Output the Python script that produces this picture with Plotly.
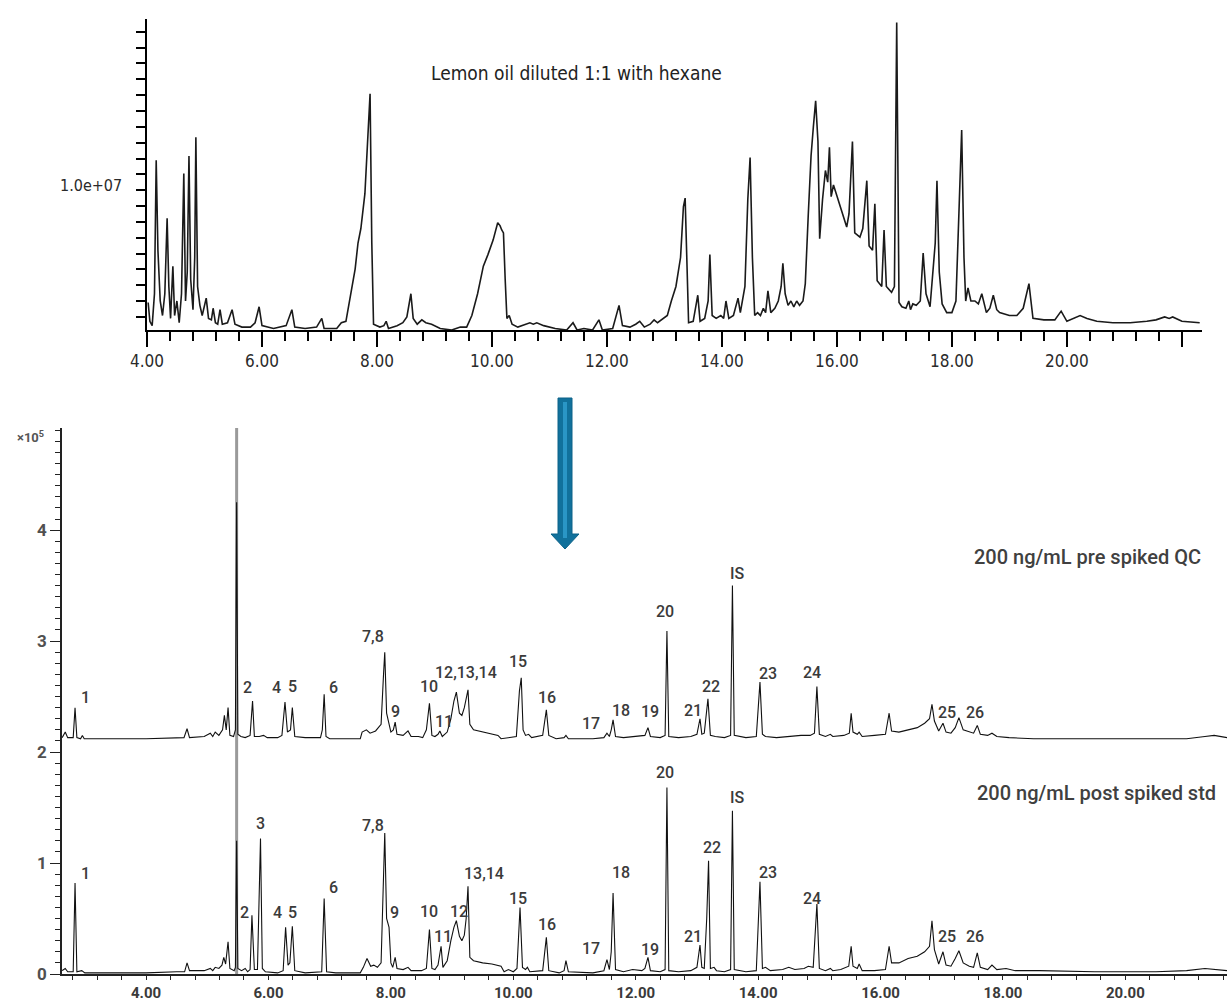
import plotly.graph_objects as go

# ---------------- DATA ----------------
# Top: lemon oil diluted 1:1 with hexane (abundance in units of 1e7)
lemon_rt = [
    4.02, 4.05, 4.09, 4.13, 4.16, 4.19, 4.23, 4.27, 4.31, 4.35,
    4.38, 4.41, 4.45, 4.48, 4.52, 4.56, 4.60, 4.64, 4.67, 4.70,
    4.73, 4.76, 4.80, 4.83, 4.85, 4.88, 4.92, 4.96, 5.03, 5.07,
    5.12, 5.15, 5.19, 5.23, 5.27, 5.31, 5.40, 5.48, 5.53, 5.65,
    5.80, 5.88, 5.95, 6.00, 6.20, 6.42, 6.52, 6.57, 6.75, 6.95,
    7.04, 7.08, 7.30, 7.38, 7.46, 7.55, 7.62, 7.67, 7.72, 7.79,
    7.85, 7.88, 7.91, 7.94, 8.05, 8.12, 8.16, 8.20, 8.35, 8.45,
    8.52, 8.59, 8.63, 8.70, 8.78, 8.85, 8.95, 9.10, 9.30, 9.45,
    9.56, 9.65, 9.75, 9.85, 9.93, 10.02, 10.10, 10.14, 10.17, 10.20,
    10.23, 10.26, 10.30, 10.35, 10.45, 10.60, 10.66, 10.72, 10.78, 10.90,
    11.10, 11.30, 11.41, 11.48, 11.60, 11.75, 11.86, 11.92, 12.10, 12.21,
    12.27, 12.40, 12.50, 12.57, 12.65, 12.75, 12.82, 12.88, 12.97, 13.05,
    13.12, 13.20, 13.28, 13.33, 13.36, 13.39, 13.42, 13.50, 13.58, 13.62,
    13.70, 13.76, 13.79, 13.83, 13.90, 13.98, 14.03, 14.07, 14.12, 14.20,
    14.28, 14.32, 14.40, 14.45, 14.49, 14.53, 14.57, 14.62, 14.67, 14.72,
    14.76, 14.80, 14.85, 14.92, 14.98, 15.03, 15.06, 15.10, 15.15, 15.20,
    15.25, 15.30, 15.35, 15.41, 15.45, 15.50, 15.55, 15.59, 15.63, 15.67,
    15.70, 15.75, 15.80, 15.84, 15.87, 15.90, 15.94, 15.98, 16.02, 16.08,
    16.13, 16.17, 16.21, 16.27, 16.31, 16.36, 16.40, 16.45, 16.52, 16.56,
    16.62, 16.66, 16.70, 16.78, 16.82, 16.86, 16.95, 17.00, 17.04, 17.08,
    17.13, 17.20, 17.25, 17.28, 17.32, 17.38, 17.45, 17.50, 17.55, 17.62,
    17.67, 17.71, 17.74, 17.78, 17.83, 17.91, 18.00, 18.07, 18.13, 18.17,
    18.21, 18.24, 18.28, 18.33, 18.40, 18.46, 18.52, 18.60, 18.66, 18.72,
    18.78, 18.83, 19.00, 19.13, 19.24, 19.34, 19.41, 19.60, 19.79, 19.90,
    20.00, 20.12, 20.23, 20.35, 20.52, 20.80, 21.10, 21.39, 21.55, 21.70,
    21.78, 21.84, 22.00, 22.31,
]
lemon_abund_e7 = [
    0.19, 0.06, 0.03, 0.25, 1.17, 0.55, 0.20, 0.10, 0.25, 0.77,
    0.30, 0.08, 0.44, 0.10, 0.20, 0.05, 0.25, 1.08, 0.20, 0.40,
    1.20, 0.35, 0.14, 0.50, 1.33, 0.30, 0.17, 0.10, 0.22, 0.08,
    0.07, 0.15, 0.05, 0.04, 0.14, 0.04, 0.05, 0.14, 0.04, 0.02,
    0.02, 0.05, 0.16, 0.03, 0.01, 0.03, 0.14, 0.02, 0.01, 0.02,
    0.08, 0.01, 0.01, 0.05, 0.06, 0.25, 0.42, 0.60, 0.70, 0.94,
    1.40, 1.63, 0.60, 0.04, 0.02, 0.03, 0.06, 0.01, 0.03, 0.05,
    0.09, 0.25, 0.08, 0.04, 0.07, 0.05, 0.04, 0.01, 0.00, 0.02,
    0.02, 0.10, 0.25, 0.44, 0.52, 0.62, 0.74, 0.72, 0.69, 0.67,
    0.35, 0.08, 0.10, 0.04, 0.02, 0.04, 0.05, 0.04, 0.05, 0.03,
    0.01, 0.00, 0.05, 0.00, 0.01, 0.00, 0.07, 0.00, 0.01, 0.17,
    0.03, 0.02, 0.04, 0.06, 0.02, 0.04, 0.07, 0.05, 0.08, 0.10,
    0.20, 0.30, 0.50, 0.85, 0.91, 0.40, 0.05, 0.06, 0.24, 0.06,
    0.08, 0.20, 0.52, 0.10, 0.08, 0.10, 0.08, 0.20, 0.08, 0.10,
    0.22, 0.12, 0.30, 0.90, 1.19, 0.50, 0.10, 0.12, 0.10, 0.15,
    0.12, 0.27, 0.12, 0.15, 0.20, 0.30, 0.46, 0.25, 0.17, 0.20,
    0.16, 0.20, 0.17, 0.20, 0.32, 0.78, 1.20, 1.40, 1.58, 1.30,
    0.63, 0.90, 1.10, 1.02, 1.26, 0.92, 1.00, 0.95, 0.90, 0.82,
    0.75, 0.71, 0.80, 1.30, 0.67, 0.65, 0.64, 0.70, 1.03, 0.58,
    0.55, 0.87, 0.34, 0.30, 0.69, 0.30, 0.26, 0.30, 2.12, 0.19,
    0.16, 0.15, 0.20, 0.14, 0.18, 0.17, 0.20, 0.53, 0.25, 0.16,
    0.40, 0.60, 1.03, 0.40, 0.18, 0.12, 0.12, 0.20, 0.90, 1.38,
    0.50, 0.20, 0.29, 0.20, 0.20, 0.18, 0.25, 0.12, 0.15, 0.24,
    0.14, 0.12, 0.10, 0.10, 0.15, 0.32, 0.08, 0.07, 0.07, 0.13,
    0.06, 0.08, 0.10, 0.08, 0.06, 0.05, 0.05, 0.06, 0.07, 0.09,
    0.08, 0.09, 0.06, 0.05,
]

# Bottom: 200 ng/mL pre spiked QC (offset trace, units of 1e5)
qc_rt = [
    2.63, 2.68, 2.72, 2.81, 2.84, 2.87, 2.93, 2.96, 2.99, 3.50,
    4.00, 4.62, 4.67, 4.71, 4.95, 5.05, 5.09, 5.13, 5.19, 5.25,
    5.28, 5.31, 5.34, 5.37, 5.43, 5.46, 5.48, 5.50, 5.55, 5.62,
    5.70, 5.74, 5.77, 5.85, 5.92, 5.98, 6.15, 6.22, 6.27, 6.31,
    6.36, 6.39, 6.43, 6.60, 6.85, 6.88, 6.91, 6.94, 7.00, 7.50,
    7.53, 7.60, 7.66, 7.75, 7.84, 7.88, 7.90, 7.93, 7.96, 8.00,
    8.04, 8.07, 8.10, 8.20, 8.28, 8.33, 8.45, 8.52, 8.58, 8.63,
    8.67, 8.72, 8.77, 8.80, 8.84, 8.92, 8.98, 9.03, 9.07, 9.12,
    9.16, 9.20, 9.26, 9.29, 9.35, 9.50, 9.60, 9.75, 9.80, 9.95,
    10.05, 10.10, 10.13, 10.16, 10.20, 10.25, 10.30, 10.48, 10.54, 10.58,
    10.70, 10.83, 10.86, 10.90, 11.30, 11.48, 11.53, 11.57, 11.60, 11.63,
    11.67, 11.80, 12.00, 12.15, 12.20, 12.24, 12.40, 12.48, 12.51, 12.54,
    12.70, 12.90, 13.00, 13.05, 13.08, 13.12, 13.18, 13.22, 13.30, 13.45,
    13.55, 13.58, 13.61, 13.80, 13.97, 14.03, 14.07, 14.12, 14.30, 14.50,
    14.70, 14.85, 14.92, 14.96, 15.00, 15.10, 15.18, 15.22, 15.40, 15.49,
    15.52, 15.55, 15.62, 15.65, 15.70, 15.90, 16.08, 16.14, 16.18, 16.30,
    16.45, 16.60, 16.72, 16.80, 16.84, 16.88, 16.95, 17.02, 17.07, 17.15,
    17.22, 17.28, 17.35, 17.45, 17.52, 17.58, 17.63, 17.75, 17.82, 17.90,
    18.10, 18.50, 19.00, 20.00, 21.00, 21.30, 21.45, 21.66,
]
qc_abund_e5 = [
    2.13, 2.18, 2.13, 2.13, 2.40, 2.13, 2.12, 2.15, 2.12, 2.12,
    2.12, 2.13, 2.21, 2.13, 2.14, 2.17, 2.14, 2.18, 2.15, 2.20,
    2.33, 2.20, 2.40, 2.15, 2.14, 2.20, 4.25, 2.16, 2.14, 2.13,
    2.15, 2.46, 2.14, 2.14, 2.15, 2.13, 2.13, 2.15, 2.45, 2.18,
    2.20, 2.40, 2.14, 2.13, 2.13, 2.20, 2.52, 2.14, 2.12, 2.12,
    2.18, 2.20, 2.17, 2.19, 2.25, 2.70, 2.90, 2.35, 2.28, 2.18,
    2.20, 2.27, 2.16, 2.15, 2.19, 2.14, 2.14, 2.13, 2.20, 2.44,
    2.15, 2.14, 2.16, 2.19, 2.14, 2.18, 2.30, 2.46, 2.54, 2.35,
    2.33, 2.40, 2.56, 2.25, 2.20, 2.18, 2.17, 2.15, 2.12, 2.13,
    2.14, 2.55, 2.67, 2.20, 2.15, 2.16, 2.13, 2.15, 2.38, 2.15,
    2.12, 2.13, 2.15, 2.12, 2.12, 2.13, 2.17, 2.14, 2.20, 2.29,
    2.14, 2.13, 2.14, 2.15, 2.22, 2.14, 2.13, 2.15, 3.09, 2.14,
    2.13, 2.14, 2.16, 2.30, 2.16, 2.17, 2.48, 2.15, 2.14, 2.13,
    2.15, 3.50, 2.15, 2.13, 2.14, 2.63, 2.16, 2.14, 2.13, 2.14,
    2.15, 2.15, 2.17, 2.59, 2.16, 2.14, 2.16, 2.14, 2.15, 2.17,
    2.35, 2.18, 2.16, 2.18, 2.14, 2.15, 2.16, 2.35, 2.19, 2.18,
    2.20, 2.22, 2.26, 2.30, 2.43, 2.28, 2.19, 2.26, 2.18, 2.17,
    2.22, 2.31, 2.20, 2.18, 2.17, 2.24, 2.16, 2.15, 2.17, 2.14,
    2.13, 2.12, 2.12, 2.12, 2.12, 2.14, 2.15, 2.13,
]

# Bottom: 200 ng/mL post spiked std (units of 1e5)
std_rt = [
    2.63, 2.68, 2.72, 2.81, 2.84, 2.87, 2.95, 3.00, 3.50, 4.00,
    4.50, 4.63, 4.67, 4.71, 4.95, 5.05, 5.09, 5.13, 5.19, 5.24,
    5.27, 5.30, 5.34, 5.37, 5.44, 5.46, 5.48, 5.50, 5.56, 5.62,
    5.66, 5.70, 5.73, 5.77, 5.82, 5.87, 5.90, 5.95, 6.15, 6.24,
    6.28, 6.32, 6.35, 6.39, 6.43, 6.60, 6.87, 6.91, 6.95, 7.10,
    7.50, 7.55, 7.61, 7.67, 7.72, 7.78, 7.84, 7.88, 7.90, 7.93,
    7.97, 8.00, 8.03, 8.07, 8.10, 8.20, 8.28, 8.33, 8.50, 8.58,
    8.63, 8.67, 8.72, 8.77, 8.82, 8.85, 8.92, 8.98, 9.03, 9.07,
    9.12, 9.16, 9.20, 9.23, 9.26, 9.29, 9.35, 9.50, 9.65, 9.80,
    9.85, 9.92, 10.00, 10.06, 10.11, 10.15, 10.20, 10.23, 10.27, 10.48,
    10.54, 10.58, 10.75, 10.83, 10.86, 10.90, 11.30, 11.48, 11.53, 11.57,
    11.60, 11.63, 11.67, 11.80, 11.95, 12.10, 12.15, 12.20, 12.24, 12.40,
    12.48, 12.51, 12.54, 12.70, 12.90, 13.00, 13.05, 13.08, 13.12, 13.16,
    13.19, 13.22, 13.28, 13.32, 13.45, 13.55, 13.58, 13.61, 13.80, 13.97,
    14.03, 14.07, 14.12, 14.20, 14.40, 14.50, 14.60, 14.75, 14.82, 14.90,
    14.96, 15.00, 15.10, 15.18, 15.22, 15.35, 15.48, 15.52, 15.55, 15.62,
    15.65, 15.70, 15.90, 16.08, 16.14, 16.18, 16.30, 16.45, 16.60, 16.72,
    16.80, 16.84, 16.88, 16.95, 17.02, 17.07, 17.15, 17.22, 17.28, 17.35,
    17.45, 17.52, 17.58, 17.63, 17.75, 17.82, 17.90, 18.05, 18.20, 18.60,
    19.50, 20.50, 21.00, 21.30, 21.45, 21.66,
]
std_abund_e5 = [
    0.03, 0.05, 0.02, 0.02, 0.82, 0.02, 0.03, 0.01, 0.01, 0.01,
    0.02, 0.02, 0.10, 0.03, 0.03, 0.05, 0.03, 0.06, 0.05, 0.08,
    0.15, 0.09, 0.29, 0.05, 0.03, 0.06, 1.20, 0.05, 0.03, 0.05,
    0.02, 0.04, 0.53, 0.04, 0.04, 1.22, 0.05, 0.02, 0.01, 0.03,
    0.42, 0.08, 0.10, 0.43, 0.03, 0.01, 0.02, 0.68, 0.02, 0.01,
    0.01, 0.06, 0.14, 0.07, 0.08, 0.06, 0.10, 1.00, 1.27, 0.50,
    0.42, 0.10, 0.06, 0.15, 0.05, 0.04, 0.06, 0.03, 0.03, 0.05,
    0.40, 0.05, 0.04, 0.08, 0.25, 0.06, 0.12, 0.30, 0.42, 0.48,
    0.34, 0.30, 0.35, 0.50, 0.79, 0.15, 0.12, 0.10, 0.09, 0.07,
    0.02, 0.04, 0.02, 0.05, 0.60, 0.06, 0.04, 0.06, 0.02, 0.03,
    0.33, 0.03, 0.01, 0.03, 0.12, 0.02, 0.01, 0.03, 0.13, 0.04,
    0.20, 0.73, 0.04, 0.02, 0.04, 0.03, 0.05, 0.15, 0.03, 0.02,
    0.04, 1.68, 0.03, 0.02, 0.03, 0.06, 0.26, 0.06, 0.05, 0.50,
    1.02, 0.05, 0.06, 0.03, 0.02, 0.04, 1.47, 0.04, 0.02, 0.03,
    0.83, 0.05, 0.06, 0.03, 0.04, 0.06, 0.04, 0.05, 0.07, 0.06,
    0.63, 0.05, 0.03, 0.05, 0.03, 0.04, 0.07, 0.25, 0.07, 0.05,
    0.09, 0.03, 0.03, 0.04, 0.25, 0.10, 0.10, 0.14, 0.16, 0.20,
    0.25, 0.48, 0.22, 0.09, 0.20, 0.08, 0.07, 0.14, 0.21, 0.10,
    0.07, 0.06, 0.19, 0.06, 0.04, 0.08, 0.04, 0.05, 0.03, 0.03,
    0.02, 0.02, 0.03, 0.05, 0.04, 0.03,
]

# Off-scale solvent peak (grey marker line)
solvent_rt = 5.48
solvent_top_e5 = 5.0

# Peak labels (text, retention time, apex height in 1e5)
qc_label_text = ["1", "2", "4", "5", "6", "7,8", "9", "10", "11", "12,13,14", "15", "16",
                 "17", "18", "19", "20", "21", "22", "IS", "23", "24", "25", "26"]
qc_label_rt = [2.84, 5.74, 6.27, 6.39, 6.91, 7.90, 8.07, 8.63, 8.80, 9.26, 10.13, 10.54,
               11.53, 11.63, 12.20, 12.51, 13.05, 13.18, 13.58, 14.03, 14.96, 17.02, 17.58]
qc_label_h = [2.40, 2.46, 2.45, 2.40, 2.52, 2.90, 2.27, 2.44, 2.19, 2.56, 2.67, 2.38,
              2.17, 2.29, 2.22, 3.09, 2.30, 2.48, 3.50, 2.63, 2.59, 2.26, 2.24]

std_label_text = ["1", "2", "3", "4", "5", "6", "7,8", "9", "10", "11", "12", "13,14", "15",
                  "16", "17", "18", "19", "20", "21", "22", "IS", "23", "24", "25", "26"]
std_label_rt = [2.84, 5.73, 5.87, 6.28, 6.39, 6.91, 7.90, 7.97, 8.63, 8.82, 9.07, 9.26, 10.11,
                10.54, 11.53, 11.63, 12.20, 12.51, 13.05, 13.19, 13.58, 14.03, 14.96, 17.02, 17.58]
std_label_h = [0.82, 0.53, 1.22, 0.42, 0.43, 0.68, 1.27, 0.42, 0.40, 0.25, 0.48, 0.79, 0.60,
               0.33, 0.13, 0.73, 0.15, 1.68, 0.26, 1.02, 1.47, 0.83, 0.63, 0.20, 0.19]

top_tick_vals = [4, 6, 8, 10, 12, 14, 16, 18, 20, 22]
top_tick_text = ["4.00", "6.00", "8.00", "10.00", "12.00", "14.00", "16.00", "18.00", "20.00", ""]
bot_tick_vals = [4, 6, 8, 10, 12, 14, 16, 18, 20]
bot_tick_text = ["4.00", "6.00", "8.00", "10.00", "12.00", "14.00", "16.00", "18.00", "20.00"]
bot_y_vals = [0, 1, 2, 3, 4]
bot_y_text = ["0", "1", "2", "3", "4"]

title_top = "Lemon oil diluted 1:1 with hexane"
title_qc = "200 ng/mL pre spiked QC"
title_std = "200 ng/mL post spiked std"
top_y_label_val = 1.0e7
top_y_label = "1.0e+07"

# ---------------- STYLE ----------------
W, H = 1227, 1003
NARROW = "Liberation Sans Narrow, DejaVu Sans Condensed, Arial Narrow, Roboto, sans-serif"
SANS = "Roboto, Liberation Sans, Arial, sans-serif"


def px(x):
    return x / W


def py(y):
    return 1 - y / H


# label offsets (pixels: right, up) relative to the peak apex
qc_offsets = [(10, 10), (-5, 14), (-8, 15), (0, 21), (9, 7), (-12, 16), (0, 11), (0, 17), (4, 9),
              (-2, 17), (-3, 16), (1, 12), (-16, 10), (8, 9), (2, 16), (-2, 20), (-7, 8), (3, 12),
              (5, 12), (8, 9), (-5, 14), (4, 11), (-2, 13)]
std_offsets = [(10, 10), (-7, 3), (0, 15), (-8, 15), (0, 14), (9, 11), (-12, 8), (5, 15), (0, 18),
               (2, 10), (3, 9), (16, 13), (-2, 9), (1, 13), (-16, 11), (8, 20), (2, 8), (-2, 15),
               (-7, 9), (3, 13), (5, 13), (8, 9), (-5, 6), (4, 15), (-2, 16)]

fig = go.Figure()

fig.add_trace(go.Scatter(
    x=lemon_rt, y=[v * 1e7 for v in lemon_abund_e7], mode="lines",
    line=dict(color="#1a1a1a", width=1.6), xaxis="x", yaxis="y", hoverinfo="skip"))

fig.add_trace(go.Scatter(
    x=[solvent_rt, solvent_rt], y=[0, solvent_top_e5], mode="lines",
    line=dict(color="#9a9a9a", width=3), xaxis="x2", yaxis="y2", hoverinfo="skip"))

fig.add_trace(go.Scatter(
    x=qc_rt, y=qc_abund_e5, mode="lines",
    line=dict(color="#111111", width=1.1), xaxis="x2", yaxis="y2", hoverinfo="skip"))

fig.add_trace(go.Scatter(
    x=std_rt, y=std_abund_e5, mode="lines",
    line=dict(color="#111111", width=1.1), xaxis="x2", yaxis="y2", hoverinfo="skip"))

annotations = []
label_font = dict(family=SANS, size=16, color="#3a3a3a", weight=500)
for txt, rt, h, (dx, dy) in zip(qc_label_text, qc_label_rt, qc_label_h, qc_offsets):
    annotations.append(dict(x=rt, y=h, xref="x2", yref="y2", text=txt, showarrow=False,
                            xanchor="center", yanchor="middle", xshift=dx, yshift=dy,
                            font=label_font))
for txt, rt, h, (dx, dy) in zip(std_label_text, std_label_rt, std_label_h, std_offsets):
    annotations.append(dict(x=rt, y=h, xref="x2", yref="y2", text=txt, showarrow=False,
                            xanchor="center", yanchor="middle", xshift=dx, yshift=dy,
                            font=label_font))

annotations += [
    dict(x=px(576), y=py(73), xref="paper", yref="paper", text=title_top, showarrow=False,
         xanchor="center", yanchor="middle",
         font=dict(family=NARROW, size=19, color="#222222")),
    dict(x=px(124), y=top_y_label_val, xref="paper", yref="y", text=top_y_label,
         showarrow=False, xanchor="right", yanchor="middle",
         font=dict(family=NARROW, size=16, color="#2a2a2a")),
    dict(x=px(1203), y=py(557), xref="paper", yref="paper", text=title_qc, showarrow=False,
         xanchor="right", yanchor="middle",
         font=dict(family=SANS, size=20, color="#404040", weight=500)),
    dict(x=px(1218), y=py(793), xref="paper", yref="paper", text=title_std, showarrow=False,
         xanchor="right", yanchor="middle",
         font=dict(family=SANS, size=20, color="#404040", weight=500)),
    dict(x=px(31), y=py(437), xref="paper", yref="paper", text="×10<sup>5</sup>",
         showarrow=False, xanchor="center", yanchor="middle",
         font=dict(family=SANS, size=13, color="#555555", weight="bold")),
]

# blue arrow between the panels
arrow_path = ("M {a},{b} L {c},{b} L {c},{d} L {e},{d} L {f},{g} L {h},{d} L {a},{d} Z").format(
    a=px(558), b=py(398), c=px(572), d=py(534), e=px(579), f=px(565), g=py(549), h=px(551))
shapes = [
    dict(type="path", path=arrow_path, xref="paper", yref="paper",
         fillcolor="#11719c", line=dict(color="#0d6288", width=1)),
    dict(type="rect", x0=px(563), x1=px(567), y0=py(538), y1=py(402), xref="paper", yref="paper",
         fillcolor="#2a96c6", line=dict(width=0)),
]

fig.update_layout(
    width=W, height=H,
    margin=dict(l=0, r=0, t=0, b=0, pad=0, autoexpand=False),
    paper_bgcolor="white", plot_bgcolor="white",
    showlegend=False,
    annotations=annotations,
    shapes=shapes,
    xaxis=dict(
        domain=[px(147), px(1202)], range=[4, 22.35], anchor="y", automargin=False,
        showline=True, linecolor="black", linewidth=2,
        tickmode="array", tickvals=top_tick_vals, ticktext=top_tick_text,
        ticks="outside", ticklen=15, tickwidth=1.5, tickcolor="black",
        minor=dict(tickmode="linear", tick0=4, dtick=0.4, ticks="outside", ticklen=9,
                   tickwidth=1.5, tickcolor="black", showgrid=False),
        showgrid=False, zeroline=False,
        tickfont=dict(family=NARROW, size=17, color="#2a2a2a"),
    ),
    yaxis=dict(
        domain=[py(330), py(19)], range=[0, 2.145e7], anchor="x", automargin=False,
        showline=True, linecolor="black", linewidth=2,
        tickmode="linear", tick0=0.897e6, dtick=1.093e6,
        ticks="outside", ticklen=9, tickwidth=1.5, tickcolor="black",
        showticklabels=False, showgrid=False, zeroline=False,
    ),
    xaxis2=dict(
        domain=[px(62), 1.0], range=[2.627, 21.66], anchor="y2", automargin=False,
        showline=True, linecolor="#222222", linewidth=1.5,
        tickmode="array", tickvals=bot_tick_vals, ticktext=bot_tick_text,
        ticks="outside", ticklen=4, tickwidth=1.2, tickcolor="#222222",
        minor=dict(tickmode="linear", tick0=4, dtick=0.4, ticks="outside", ticklen=4,
                   tickwidth=1.2, tickcolor="#222222", showgrid=False),
        showgrid=False, zeroline=False,
        tickfont=dict(family=SANS, size=15, color="#3a3a3a", weight="bold"),
    ),
    yaxis2=dict(
        domain=[py(974), py(428)], range=[0, 4.92], anchor="x2", automargin=False,
        showline=True, linecolor="#222222", linewidth=1.5,
        tickmode="array", tickvals=bot_y_vals, ticktext=bot_y_text,
        ticks="outside", ticklen=10, tickwidth=1.2, tickcolor="#222222",
        minor=dict(tickmode="linear", tick0=0, dtick=0.1, ticks="outside", ticklen=5,
                   tickwidth=1.2, tickcolor="#222222", showgrid=False),
        showgrid=False, zeroline=False,
        tickfont=dict(family=SANS, size=17, color="#505050", weight="bold"),
    ),
)

assert len(lemon_rt) == len(lemon_abund_e7)
assert len(qc_rt) == len(qc_abund_e5)
assert len(std_rt) == len(std_abund_e5)

fig.write_html("out.html", config={"displayModeBar": False},
               post_script="document.body.style.margin='0';")
